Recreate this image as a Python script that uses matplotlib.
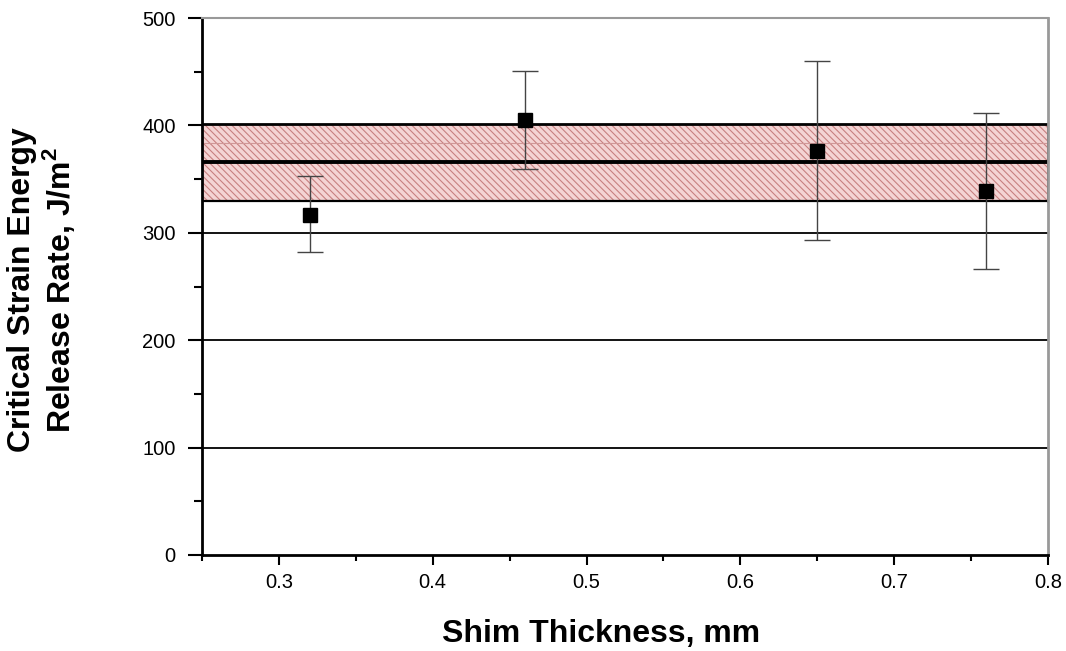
import matplotlib
matplotlib.use("Agg")
import matplotlib.pyplot as plt
from matplotlib.ticker import MultipleLocator

# Data
thickness = [0.32, 0.46, 0.65, 0.76]
gc_mean = [317, 405, 376, 339]
err_upper = [353, 451, 460, 412]
err_lower = [282, 359, 293, 266]
band_low, band_mean, band_high = 330, 366, 401
x_ticks = [0.3, 0.4, 0.5, 0.6, 0.7, 0.8]
x_ticklabels = ['0.3', '0.4', '0.5', '0.6', '0.7', '0.8']

plt.rcParams['font.family'] = ['Liberation Sans', 'DejaVu Sans']
plt.rcParams['mathtext.fontset'] = 'custom'
plt.rcParams['mathtext.rm'] = 'Liberation Sans'
plt.rcParams['mathtext.bf'] = 'Liberation Sans:bold'
plt.rcParams['hatch.linewidth'] = 0.8

fig = plt.figure(figsize=(10.66, 6.51), dpi=100)
ax = fig.add_axes([202/1066, 96/651, (1048-202)/1066, (555-18)/651])

ax.set_xlim(0.25, 0.8)
ax.set_ylim(0, 500)

# gridlines
for g in [100, 200, 300]:
    ax.axhline(g, color='black', lw=1.3, zorder=1)

# band
ax.axhspan(band_low, band_high, facecolor='#f4d4d4', edgecolor='#c88080',
           hatch='\\\\\\\\\\', lw=0, zorder=1.5)
ax.axhline((band_mean + band_high) / 2, color='#d09898', lw=0.8, zorder=1.6)
ax.axhline(band_low, color='black', lw=1.6, zorder=2)
ax.axhline(band_high, color='black', lw=2.0, zorder=2)
ax.axhline(band_mean, color='black', lw=2.8, zorder=2)
ax.axvline(0.8, ymin=band_low/500, ymax=band_high/500, color='black', lw=2, zorder=2)

yerr = [[m - l for m, l in zip(gc_mean, err_lower)], [u - m for m, u in zip(gc_mean, err_upper)]]
ax.errorbar(thickness, gc_mean, yerr=yerr, fmt='s', color='black', ecolor='#444444',
            elinewidth=1.0, capsize=9.5, capthick=1.0, markersize=10, zorder=5)

ax.xaxis.set_minor_locator(MultipleLocator(0.05))
ax.yaxis.set_major_locator(MultipleLocator(100))
ax.yaxis.set_minor_locator(MultipleLocator(50))
ax.set_xticks(x_ticks)
ax.set_xticklabels(x_ticklabels)
ax.tick_params(axis='x', which='major', direction='out', length=7, width=1.5, labelsize=14.5, pad=6)
ax.tick_params(axis='x', which='minor', direction='out', length=4, width=1.5)
ax.tick_params(axis='y', which='major', direction='out', length=10, width=1.5, labelsize=14.5, pad=9)
ax.tick_params(axis='y', which='minor', direction='out', length=6, width=1.5)

ax.spines['left'].set_linewidth(2)
ax.spines['bottom'].set_linewidth(2)
ax.spines['top'].set_color('#999999')
ax.spines['right'].set_color('#999999')
ax.spines['top'].set_linewidth(1.5)
ax.spines['right'].set_linewidth(2)

fig.text(601/1066, 1 - 634/651, 'Shim Thickness, mm', fontsize=23, fontweight='bold',
         ha='center', va='center')
fig.text(42/1066, 1 - 290/651, 'Critical Strain Energy\nRelease Rate, J/m$^{\\mathbf{2}}$',
         fontsize=23, fontweight='bold', rotation=90, ha='center', va='center',
         multialignment='center', linespacing=1.1)

fig.savefig('out.png', dpi=100)
